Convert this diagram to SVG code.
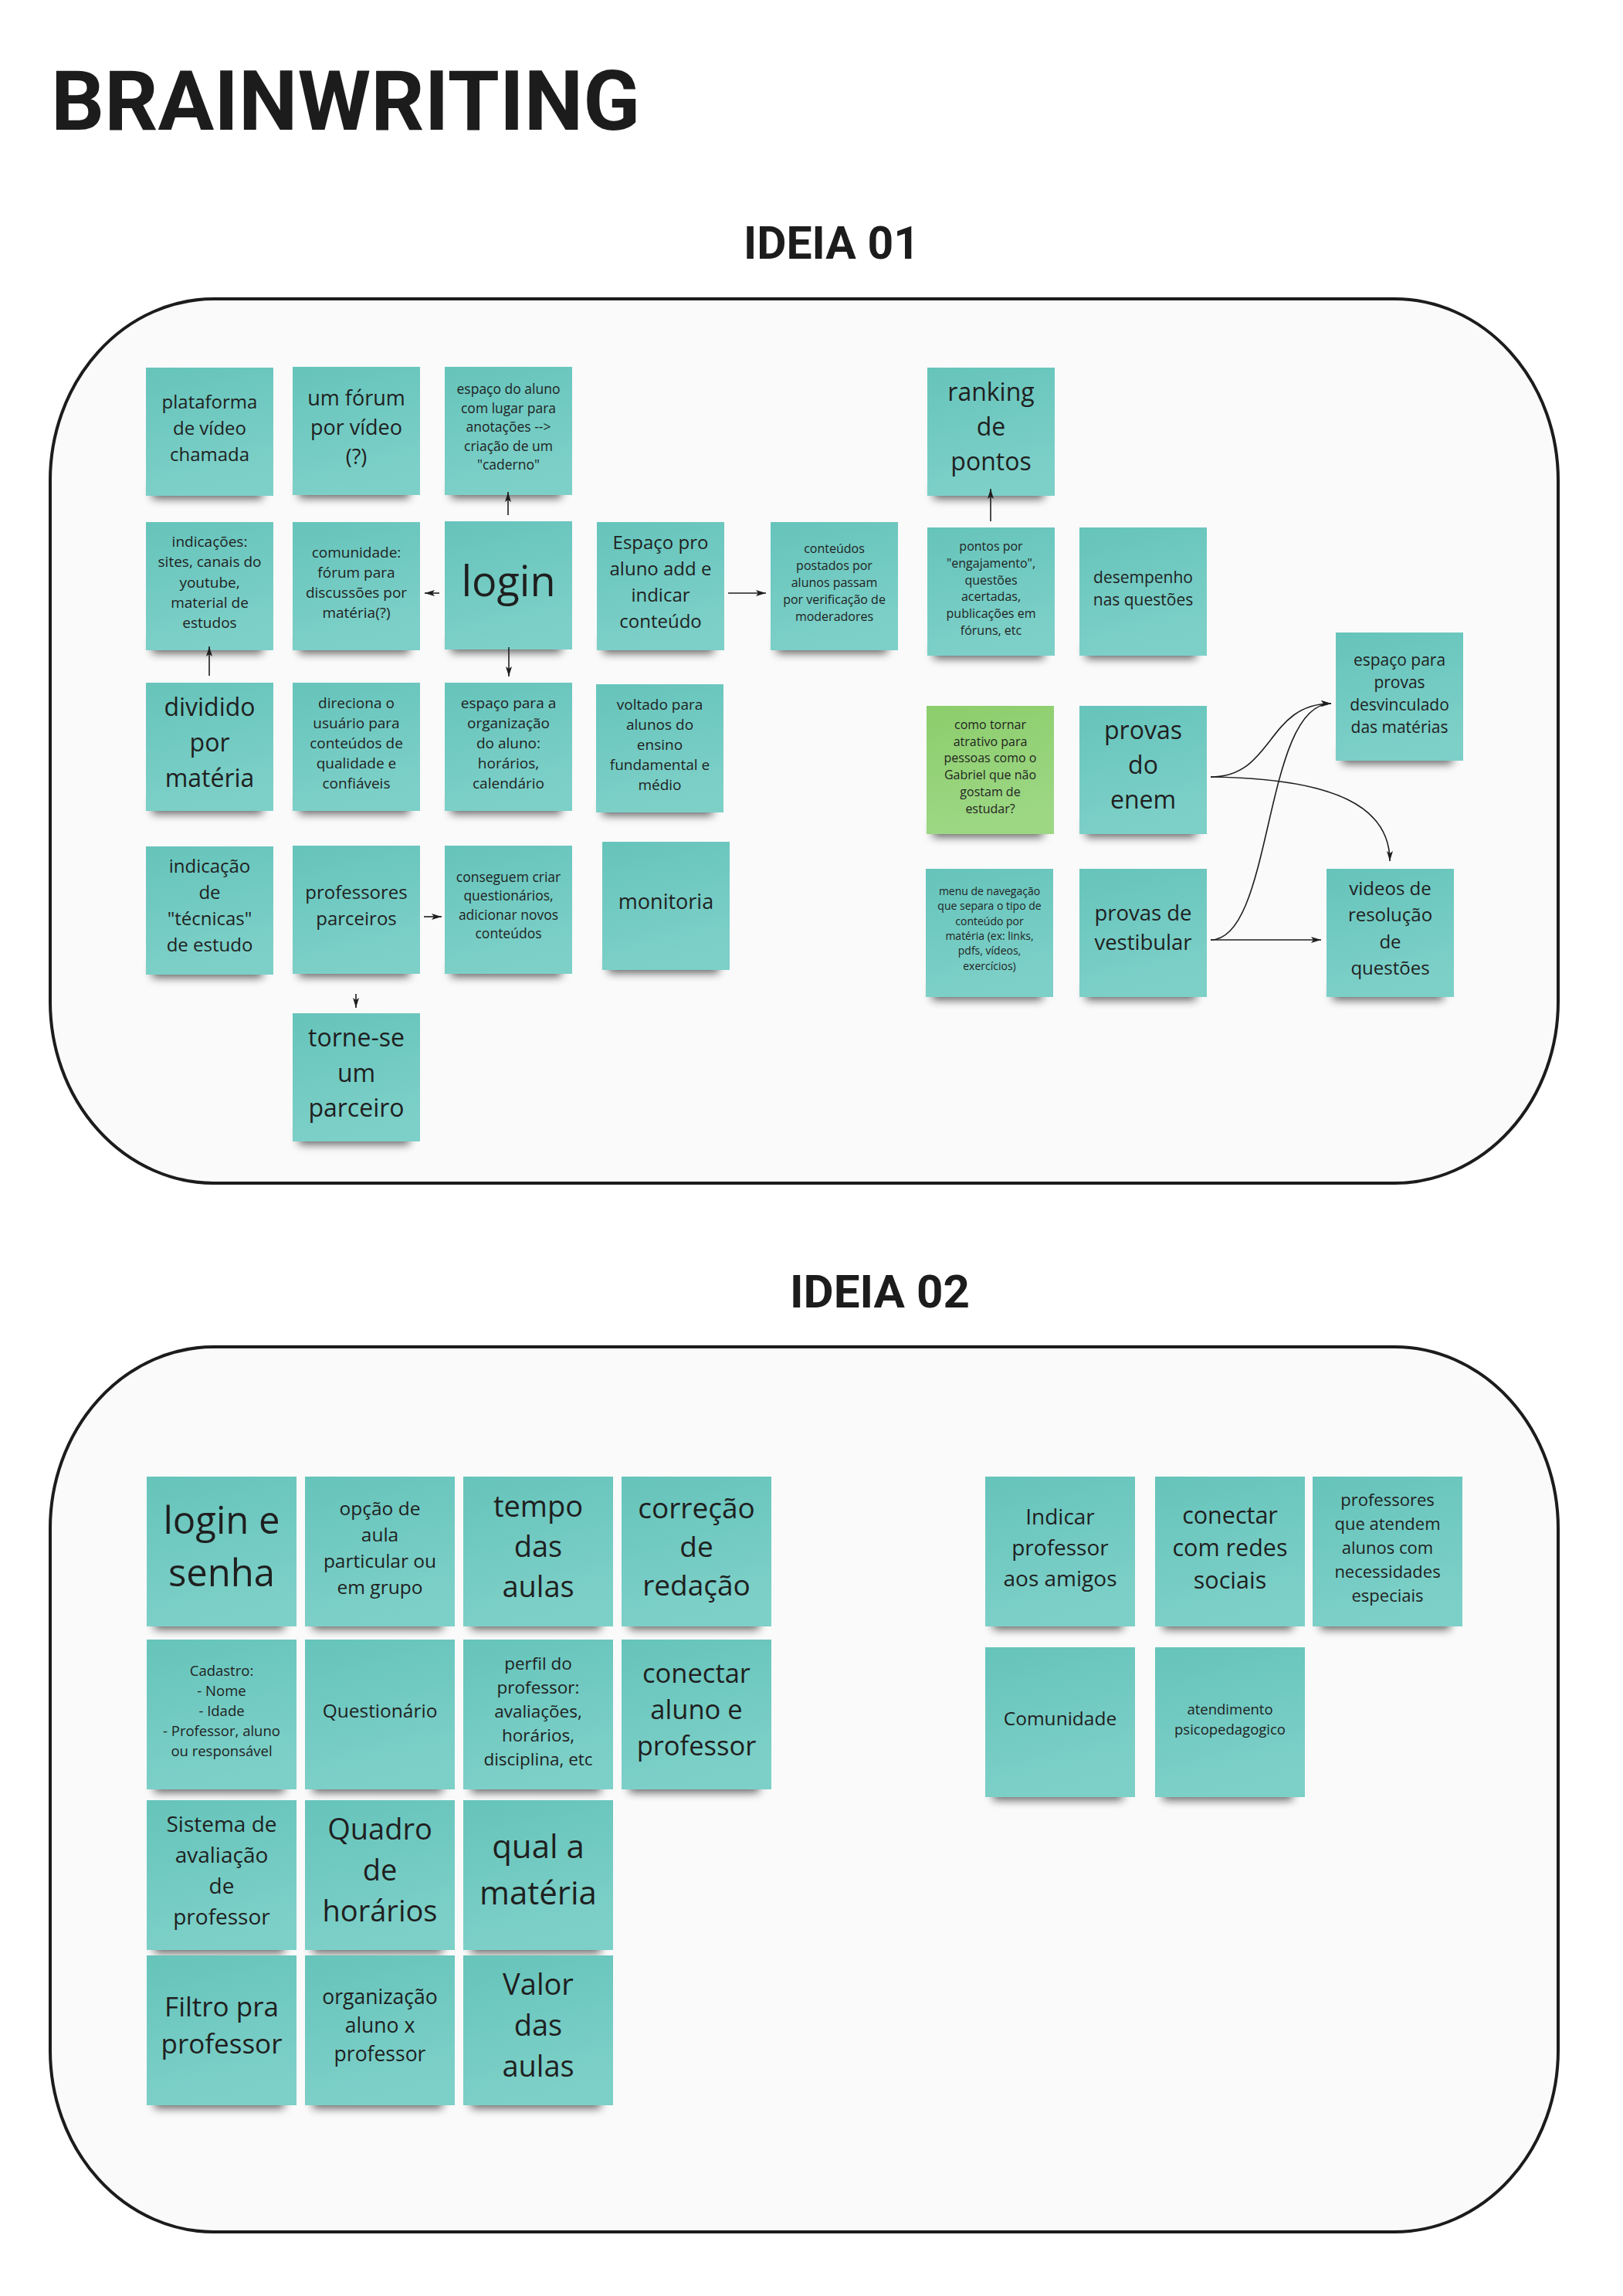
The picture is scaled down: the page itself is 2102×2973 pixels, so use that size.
<svg xmlns="http://www.w3.org/2000/svg" width="2102" height="2973" viewBox="0 0 2102 2973">
<defs>
<linearGradient id="tg" x1="0" y1="0" x2="0.25" y2="1"><stop offset="0" stop-color="#66c4bb"/><stop offset="1" stop-color="#7dd0c8"/></linearGradient>
<linearGradient id="gg" x1="0" y1="0" x2="0.25" y2="1"><stop offset="0" stop-color="#8ccd6c"/><stop offset="1" stop-color="#9dd784"/></linearGradient>
<filter id="bl" x="-20%" y="-100%" width="140%" height="300%"><feGaussianBlur stdDeviation="6"/></filter>
<marker id="ah" viewBox="0 0 13 8" refX="13" refY="4" markerWidth="13" markerHeight="8" markerUnits="userSpaceOnUse" orient="auto"><path d="M0,0 L13,4 L0,8 L3,4 Z" fill="#1f1f1f"/></marker>
<style>
.t{font-family:"Open Sans","Liberation Sans",sans-serif;fill:#1f1f1f;text-anchor:middle}
.nt{fill:url(#tg)}
.ng{fill:url(#gg)}
.sh{fill:#000;opacity:.6;filter:url(#bl)}
.c{fill:none;stroke:#1f1f1f;stroke-width:1.6}
.box{fill:#fafafa;stroke:#1c1c1c;stroke-width:4}
.h{font-family:Roboto,"Liberation Sans",sans-serif;font-weight:700;fill:#1c1c1c}
</style>
</defs>
<rect width="2102" height="2973" fill="#ffffff"/>
<text class="h" x="66" y="168" font-size="108" textLength="763" lengthAdjust="spacingAndGlyphs">BRAINWRITING</text>
<text class="h" x="963" y="335" font-size="59" textLength="228" lengthAdjust="spacingAndGlyphs">IDEIA 01</text>
<text class="h" x="1023" y="1693" font-size="60" textLength="233" lengthAdjust="spacingAndGlyphs">IDEIA 02</text>
<rect id="box1" class="box" x="65" y="387" width="1953" height="1145" rx="212" ry="235"/>
<rect id="box2" class="box" x="65" y="1744" width="1953" height="1146" rx="212" ry="235"/>

<g id="ideia01">
<g id="n-plataforma" transform="translate(189,476)"><rect class="sh" x="8" y="150" width="143" height="20"/><rect class="nt" width="165" height="166"/><text class="t" font-size="24"><tspan x="82.5" y="53">plataforma</tspan><tspan x="82.5" dy="34">de vídeo</tspan><tspan x="82.5" dy="34">chamada</tspan></text></g>
<g id="n-forum" transform="translate(379,475)"><rect class="sh" x="8" y="150" width="143" height="20"/><rect class="nt" width="165" height="166"/><text class="t" font-size="27"><tspan x="82.5" y="50">um fórum</tspan><tspan x="82.5" dy="38">por vídeo</tspan><tspan x="82.5" dy="38">(?)</tspan></text></g>
<g id="n-espaco-aluno" transform="translate(576,475)"><rect class="sh" x="8" y="150" width="143" height="20"/><rect class="nt" width="165" height="166"/><text class="t" font-size="17.5"><tspan x="82.5" y="35">espaço do aluno</tspan><tspan x="82.5" dy="24.5">com lugar para</tspan><tspan x="82.5" dy="24.5">anotações --&gt;</tspan><tspan x="82.5" dy="24.5">criação de um</tspan><tspan x="82.5" dy="24.5">"caderno"</tspan></text></g>
<g id="n-ranking" transform="translate(1201,476)"><rect class="sh" x="8" y="150" width="143" height="20"/><rect class="nt" width="165" height="166"/><text class="t" font-size="32"><tspan x="82.5" y="43">ranking</tspan><tspan x="82.5" dy="45">de</tspan><tspan x="82.5" dy="45">pontos</tspan></text></g>
<g id="n-indicacoes" transform="translate(189,676)"><rect class="sh" x="8" y="150" width="143" height="20"/><rect class="nt" width="165" height="166"/><text class="t" font-size="19"><tspan x="82.5" y="32">indicações:</tspan><tspan x="82.5" dy="26.3">sites, canais do</tspan><tspan x="82.5" dy="26.3">youtube,</tspan><tspan x="82.5" dy="26.3">material de</tspan><tspan x="82.5" dy="26.3">estudos</tspan></text></g>
<g id="n-comunidade" transform="translate(379,676)"><rect class="sh" x="8" y="150" width="143" height="20"/><rect class="nt" width="165" height="166"/><text class="t" font-size="19"><tspan x="82.5" y="46">comunidade:</tspan><tspan x="82.5" dy="26">fórum para</tspan><tspan x="82.5" dy="26">discussões por</tspan><tspan x="82.5" dy="26">matéria(?)</tspan></text></g>
<g id="n-login" transform="translate(576,675)"><rect class="sh" x="8" y="150" width="143" height="20"/><rect class="nt" width="165" height="166"/><text class="t" font-size="54"><tspan x="82.5" y="97">login</tspan></text></g>
<g id="n-espaco-pro" transform="translate(773,676)"><rect class="sh" x="8" y="150" width="143" height="20"/><rect class="nt" width="165" height="166"/><text class="t" font-size="24"><tspan x="82.5" y="35">Espaço pro</tspan><tspan x="82.5" dy="34">aluno add e</tspan><tspan x="82.5" dy="34">indicar</tspan><tspan x="82.5" dy="34">conteúdo</tspan></text></g>
<g id="n-conteudos" transform="translate(998,676)"><rect class="sh" x="8" y="150" width="143" height="20"/><rect class="nt" width="165" height="166"/><text class="t" font-size="16"><tspan x="82.5" y="40">conteúdos</tspan><tspan x="82.5" dy="22">postados por</tspan><tspan x="82.5" dy="22">alunos passam</tspan><tspan x="82.5" dy="22">por verificação de</tspan><tspan x="82.5" dy="22">moderadores</tspan></text></g>
<g id="n-pontos" transform="translate(1201,683)"><rect class="sh" x="8" y="150" width="143" height="20"/><rect class="nt" width="165" height="166"/><text class="t" font-size="16"><tspan x="82.5" y="30">pontos por</tspan><tspan x="82.5" dy="21.8">"engajamento",</tspan><tspan x="82.5" dy="21.8">questões</tspan><tspan x="82.5" dy="21.8">acertadas,</tspan><tspan x="82.5" dy="21.8">publicações em</tspan><tspan x="82.5" dy="21.8">fóruns, etc</tspan></text></g>
<g id="n-desempenho" transform="translate(1398,683)"><rect class="sh" x="8" y="150" width="143" height="20"/><rect class="nt" width="165" height="166"/><text class="t" font-size="21"><tspan x="82.5" y="72">desempenho</tspan><tspan x="82.5" dy="29">nas questões</tspan></text></g>
<g id="n-dividido" transform="translate(189,884)"><rect class="sh" x="8" y="150" width="143" height="20"/><rect class="nt" width="165" height="166"/><text class="t" font-size="32"><tspan x="82.5" y="43">dividido</tspan><tspan x="82.5" dy="46">por</tspan><tspan x="82.5" dy="46">matéria</tspan></text></g>
<g id="n-direciona" transform="translate(379,884)"><rect class="sh" x="8" y="150" width="143" height="20"/><rect class="nt" width="165" height="166"/><text class="t" font-size="19"><tspan x="82.5" y="33">direciona o</tspan><tspan x="82.5" dy="26">usuário para</tspan><tspan x="82.5" dy="26">conteúdos de</tspan><tspan x="82.5" dy="26">qualidade e</tspan><tspan x="82.5" dy="26">confiáveis</tspan></text></g>
<g id="n-organizacao" transform="translate(576,884)"><rect class="sh" x="8" y="150" width="143" height="20"/><rect class="nt" width="165" height="166"/><text class="t" font-size="19"><tspan x="82.5" y="33">espaço para a</tspan><tspan x="82.5" dy="26">organização</tspan><tspan x="82.5" dy="26">do aluno:</tspan><tspan x="82.5" dy="26">horários,</tspan><tspan x="82.5" dy="26">calendário</tspan></text></g>
<g id="n-voltado" transform="translate(772,886)"><rect class="sh" x="8" y="150" width="143" height="20"/><rect class="nt" width="165" height="166"/><text class="t" font-size="19"><tspan x="82.5" y="33">voltado para</tspan><tspan x="82.5" dy="26">alunos do</tspan><tspan x="82.5" dy="26">ensino</tspan><tspan x="82.5" dy="26">fundamental e</tspan><tspan x="82.5" dy="26">médio</tspan></text></g>
<g id="n-espaco-provas" transform="translate(1730,819)"><rect class="sh" x="8" y="150" width="143" height="20"/><rect class="nt" width="165" height="166"/><text class="t" font-size="21"><tspan x="82.5" y="43">espaço para</tspan><tspan x="82.5" dy="29">provas</tspan><tspan x="82.5" dy="29">desvinculado</tspan><tspan x="82.5" dy="29">das matérias</tspan></text></g>
<g id="n-como-tornar" transform="translate(1200,914)"><rect class="sh" x="8" y="150" width="143" height="20"/><rect class="ng" width="165" height="166"/><text class="t" font-size="16"><tspan x="82.5" y="30">como tornar</tspan><tspan x="82.5" dy="21.7">atrativo para</tspan><tspan x="82.5" dy="21.7">pessoas como o</tspan><tspan x="82.5" dy="21.7">Gabriel que não</tspan><tspan x="82.5" dy="21.7">gostam de</tspan><tspan x="82.5" dy="21.7">estudar?</tspan></text></g>
<g id="n-enem" transform="translate(1398,914)"><rect class="sh" x="8" y="150" width="143" height="20"/><rect class="nt" width="165" height="166"/><text class="t" font-size="32"><tspan x="82.5" y="43">provas</tspan><tspan x="82.5" dy="45">do</tspan><tspan x="82.5" dy="45">enem</tspan></text></g>
<g id="n-tecnicas" transform="translate(189,1096)"><rect class="sh" x="8" y="150" width="143" height="20"/><rect class="nt" width="165" height="166"/><text class="t" font-size="24"><tspan x="82.5" y="34">indicação</tspan><tspan x="82.5" dy="34">de</tspan><tspan x="82.5" dy="34">"técnicas"</tspan><tspan x="82.5" dy="34">de estudo</tspan></text></g>
<g id="n-professores" transform="translate(379,1095)"><rect class="sh" x="8" y="150" width="143" height="20"/><rect class="nt" width="165" height="166"/><text class="t" font-size="24"><tspan x="82.5" y="69">professores</tspan><tspan x="82.5" dy="34">parceiros</tspan></text></g>
<g id="n-conseguem" transform="translate(576,1095)"><rect class="sh" x="8" y="150" width="143" height="20"/><rect class="nt" width="165" height="166"/><text class="t" font-size="17.5"><tspan x="82.5" y="47">conseguem criar</tspan><tspan x="82.5" dy="24.4">questionários,</tspan><tspan x="82.5" dy="24.4">adicionar novos</tspan><tspan x="82.5" dy="24.4">conteúdos</tspan></text></g>
<g id="n-monitoria" transform="translate(780,1090)"><rect class="sh" x="8" y="150" width="143" height="20"/><rect class="nt" width="165" height="166"/><text class="t" font-size="27"><tspan x="82.5" y="87">monitoria</tspan></text></g>
<g id="n-menu" transform="translate(1199,1125)"><rect class="sh" x="8" y="150" width="143" height="20"/><rect class="nt" width="165" height="166"/><text class="t" font-size="14"><tspan x="82.5" y="34">menu de navegação</tspan><tspan x="82.5" dy="19.3">que separa o tipo de</tspan><tspan x="82.5" dy="19.3">conteúdo por</tspan><tspan x="82.5" dy="19.3">matéria (ex: links,</tspan><tspan x="82.5" dy="19.3">pdfs, vídeos,</tspan><tspan x="82.5" dy="19.3">exercícios)</tspan></text></g>
<g id="n-vestibular" transform="translate(1398,1125)"><rect class="sh" x="8" y="150" width="143" height="20"/><rect class="nt" width="165" height="166"/><text class="t" font-size="27.5"><tspan x="82.5" y="67">provas de</tspan><tspan x="82.5" dy="38">vestibular</tspan></text></g>
<g id="n-videos" transform="translate(1718,1125)"><rect class="sh" x="8" y="150" width="143" height="20"/><rect class="nt" width="165" height="166"/><text class="t" font-size="24"><tspan x="82.5" y="34">videos de</tspan><tspan x="82.5" dy="34.4">resolução</tspan><tspan x="82.5" dy="34.4">de</tspan><tspan x="82.5" dy="34.4">questões</tspan></text></g>
<g id="n-torne-se" transform="translate(379,1312)"><rect class="sh" x="8" y="150" width="143" height="20"/><rect class="nt" width="165" height="166"/><text class="t" font-size="32"><tspan x="82.5" y="43">torne-se</tspan><tspan x="82.5" dy="45.5">um</tspan><tspan x="82.5" dy="45.5">parceiro</tspan></text></g>
</g>

<g id="connectors">
<path class="c" marker-end="url(#ah)" d="M658,667 V637"/>
<path class="c" marker-end="url(#ah)" d="M569,768 H550"/>
<path class="c" marker-end="url(#ah)" d="M659,838 V876"/>
<path class="c" marker-end="url(#ah)" d="M271,875 V837"/>
<path class="c" marker-end="url(#ah)" d="M943,768 H992"/>
<path class="c" marker-end="url(#ah)" d="M1283,675 V633"/>
<path class="c" marker-end="url(#ah)" d="M549,1187 H572"/>
<path class="c" marker-end="url(#ah)" d="M461,1287 V1305"/>
<path class="c" marker-end="url(#ah)" d="M1568,1006 C1650,1006 1640,911 1724,911"/>
<path class="c" marker-end="url(#ah)" d="M1568,1217 C1650,1217 1635,911 1724,911"/>
<path class="c" marker-end="url(#ah)" d="M1568,1006 C1730,1008 1800,1045 1800,1115"/>
<path class="c" marker-end="url(#ah)" d="M1568,1217 H1711"/>
</g>

<g id="ideia02">
<g id="n-login-senha" transform="translate(190,1912)"><rect class="sh" x="10" y="176" width="168" height="22"/><rect class="nt" width="194" height="194"/><text class="t" font-size="49"><tspan x="97" y="74">login e</tspan><tspan x="97" dy="68">senha</tspan></text></g>
<g id="n-opcao" transform="translate(395,1912)"><rect class="sh" x="10" y="176" width="168" height="22"/><rect class="nt" width="194" height="194"/><text class="t" font-size="24.5"><tspan x="97" y="50">opção de</tspan><tspan x="97" dy="34">aula</tspan><tspan x="97" dy="34">particular ou</tspan><tspan x="97" dy="34">em grupo</tspan></text></g>
<g id="n-tempo" transform="translate(600,1912)"><rect class="sh" x="10" y="176" width="168" height="22"/><rect class="nt" width="194" height="194"/><text class="t" font-size="38"><tspan x="97" y="52">tempo</tspan><tspan x="97" dy="52">das</tspan><tspan x="97" dy="52">aulas</tspan></text></g>
<g id="n-correcao" transform="translate(805,1912)"><rect class="sh" x="10" y="176" width="168" height="22"/><rect class="nt" width="194" height="194"/><text class="t" font-size="37"><tspan x="97" y="54">correção</tspan><tspan x="97" dy="50">de</tspan><tspan x="97" dy="50">redação</tspan></text></g>
<g id="n-cadastro" transform="translate(190,2123)"><rect class="sh" x="10" y="176" width="168" height="22"/><rect class="nt" width="194" height="194"/><text class="t" font-size="18.5"><tspan x="97" y="47">Cadastro:</tspan><tspan x="97" dy="26">- Nome</tspan><tspan x="97" dy="26">- Idade</tspan><tspan x="97" dy="26">- Professor, aluno</tspan><tspan x="97" dy="26">ou responsável</tspan></text></g>
<g id="n-questionario" transform="translate(395,2123)"><rect class="sh" x="10" y="176" width="168" height="22"/><rect class="nt" width="194" height="194"/><text class="t" font-size="24.5"><tspan x="97" y="101">Questionário</tspan></text></g>
<g id="n-perfil" transform="translate(600,2123)"><rect class="sh" x="10" y="176" width="168" height="22"/><rect class="nt" width="194" height="194"/><text class="t" font-size="22.5"><tspan x="97" y="39">perfil do</tspan><tspan x="97" dy="31">professor:</tspan><tspan x="97" dy="31">avaliações,</tspan><tspan x="97" dy="31">horários,</tspan><tspan x="97" dy="31">disciplina, etc</tspan></text></g>
<g id="n-conectar-aluno" transform="translate(805,2123)"><rect class="sh" x="10" y="176" width="168" height="22"/><rect class="nt" width="194" height="194"/><text class="t" font-size="34.5"><tspan x="97" y="56">conectar</tspan><tspan x="97" dy="47">aluno e</tspan><tspan x="97" dy="47">professor</tspan></text></g>
<g id="n-sistema" transform="translate(190,2331)"><rect class="sh" x="10" y="176" width="168" height="22"/><rect class="nt" width="194" height="194"/><text class="t" font-size="28"><tspan x="97" y="41">Sistema de</tspan><tspan x="97" dy="40">avaliação</tspan><tspan x="97" dy="40">de</tspan><tspan x="97" dy="40">professor</tspan></text></g>
<g id="n-quadro" transform="translate(395,2331)"><rect class="sh" x="10" y="176" width="168" height="22"/><rect class="nt" width="194" height="194"/><text class="t" font-size="38"><tspan x="97" y="51">Quadro</tspan><tspan x="97" dy="53">de</tspan><tspan x="97" dy="53">horários</tspan></text></g>
<g id="n-qual" transform="translate(600,2331)"><rect class="sh" x="10" y="176" width="168" height="22"/><rect class="nt" width="194" height="194"/><text class="t" font-size="42"><tspan x="97" y="75">qual a</tspan><tspan x="97" dy="60">matéria</tspan></text></g>
<g id="n-filtro" transform="translate(190,2532)"><rect class="sh" x="10" y="176" width="168" height="22"/><rect class="nt" width="194" height="194"/><text class="t" font-size="35"><tspan x="97" y="79">Filtro pra</tspan><tspan x="97" dy="48">professor</tspan></text></g>
<g id="n-organizacao2" transform="translate(395,2532)"><rect class="sh" x="10" y="176" width="168" height="22"/><rect class="nt" width="194" height="194"/><text class="t" font-size="26.5"><tspan x="97" y="63">organização</tspan><tspan x="97" dy="37">aluno x</tspan><tspan x="97" dy="37">professor</tspan></text></g>
<g id="n-valor" transform="translate(600,2532)"><rect class="sh" x="10" y="176" width="168" height="22"/><rect class="nt" width="194" height="194"/><text class="t" font-size="38"><tspan x="97" y="51">Valor</tspan><tspan x="97" dy="53">das</tspan><tspan x="97" dy="53">aulas</tspan></text></g>
<g id="n-indicar" transform="translate(1276,1912)"><rect class="sh" x="10" y="176" width="168" height="22"/><rect class="nt" width="194" height="194"/><text class="t" font-size="28"><tspan x="97" y="62">Indicar</tspan><tspan x="97" dy="40">professor</tspan><tspan x="97" dy="40">aos amigos</tspan></text></g>
<g id="n-redes" transform="translate(1496,1912)"><rect class="sh" x="10" y="176" width="168" height="22"/><rect class="nt" width="194" height="194"/><text class="t" font-size="30.5"><tspan x="97" y="61">conectar</tspan><tspan x="97" dy="42">com redes</tspan><tspan x="97" dy="42">sociais</tspan></text></g>
<g id="n-necessidades" transform="translate(1700,1912)"><rect class="sh" x="10" y="176" width="168" height="22"/><rect class="nt" width="194" height="194"/><text class="t" font-size="22"><tspan x="97" y="38">professores</tspan><tspan x="97" dy="31">que atendem</tspan><tspan x="97" dy="31">alunos com</tspan><tspan x="97" dy="31">necessidades</tspan><tspan x="97" dy="31">especiais</tspan></text></g>
<g id="n-comunidade2" transform="translate(1276,2133)"><rect class="sh" x="10" y="176" width="168" height="22"/><rect class="nt" width="194" height="194"/><text class="t" font-size="24.5"><tspan x="97" y="101">Comunidade</tspan></text></g>
<g id="n-psico" transform="translate(1496,2133)"><rect class="sh" x="10" y="176" width="168" height="22"/><rect class="nt" width="194" height="194"/><text class="t" font-size="18.5"><tspan x="97" y="87">atendimento</tspan><tspan x="97" dy="26">psicopedagogico</tspan></text></g>
</g>
</svg>
